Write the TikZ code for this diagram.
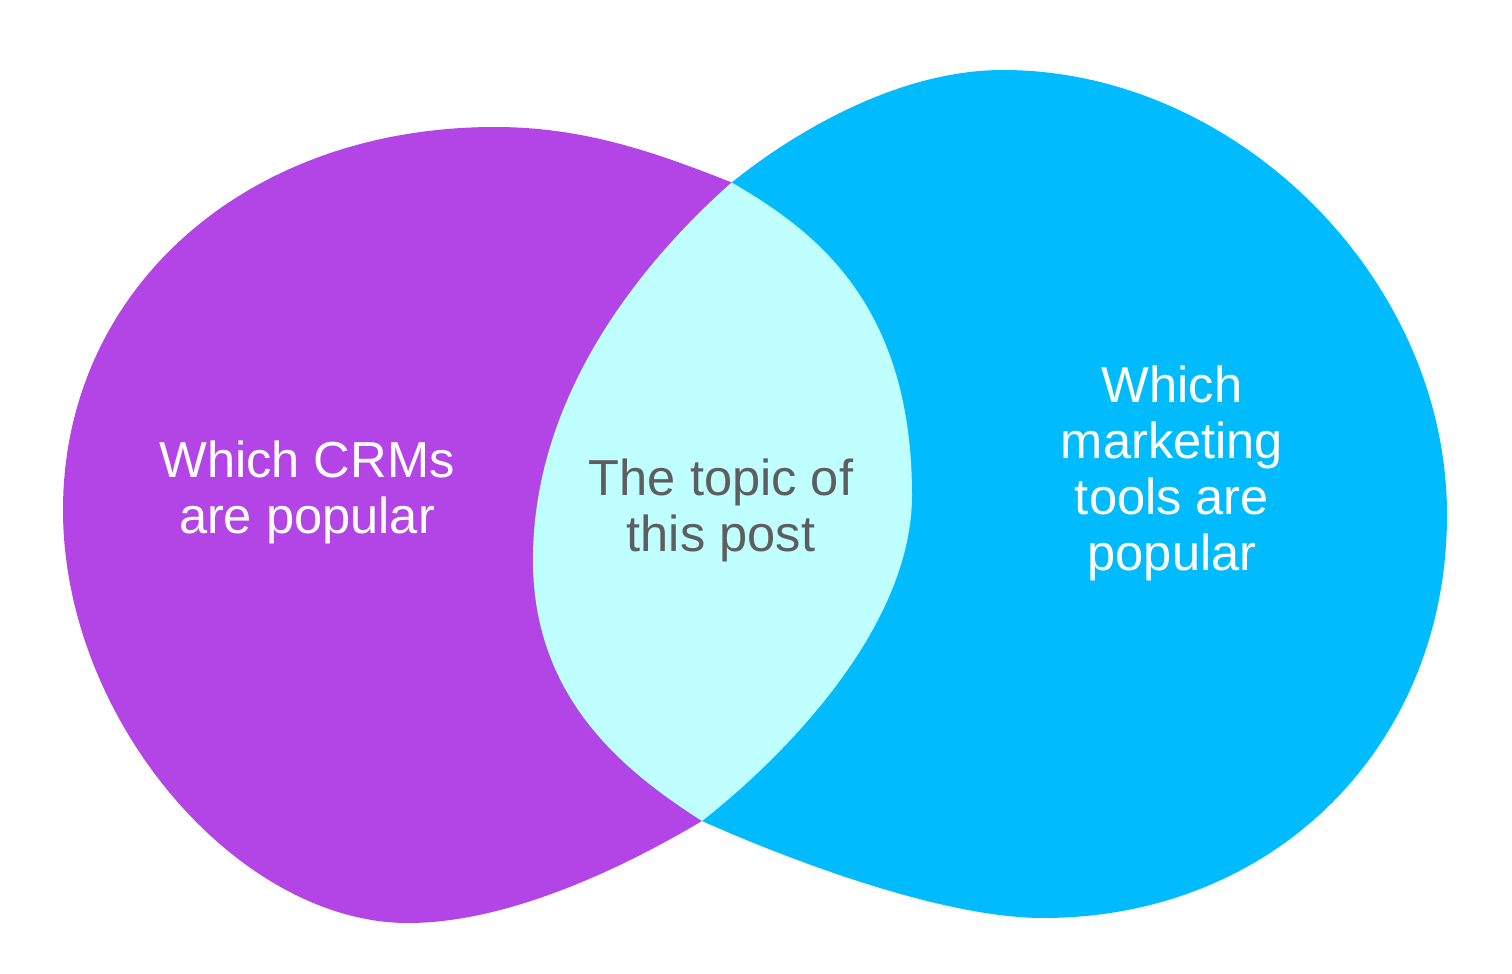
\documentclass[tikz,border=0pt]{standalone}
\usepackage{fontspec}
\setmainfont{Liberation Sans}
\definecolor{crmpurple}{HTML}{B345E6}
\definecolor{mktcyan}{HTML}{00BCFF}
\definecolor{lenscyan}{HTML}{BFFFFF}
\definecolor{topicgrey}{HTML}{5E5E5E}
\tikzset{
  lbl/.style={font=\fontsize{25.3}{28}\selectfont, align=center, anchor=base, inner sep=0pt},
}
\begin{document}
\begin{tikzpicture}[x=0.5pt,y=-0.5pt]
\useasboundingbox (0,0) rectangle (1512,974);
\fill[white] (0,0) rectangle (1512,974);
\coordinate (T) at (731.7,182.5);
\coordinate (B) at (702,821);
% left blob
\fill[crmpurple] (T) .. controls (657,153) and (585,127) .. (495,127)
  .. controls (245,127) and (63,290) .. (63,510)
  .. controls (63,720) and (238,923) .. (408,923)
  .. controls (518,923) and (641.8,856.7) .. (B)
  .. controls (781,759) and (912,629) .. (912,495)
  .. controls (912,299) and (809,227.7) .. (T) -- cycle;
% right blob
\fill[mktcyan] (T) .. controls (786.3,138.4) and (893,70) .. (1003,70)
  .. controls (1235,70) and (1447,277) .. (1447,515)
  .. controls (1447,745) and (1275,918) .. (1043,918)
  .. controls (944,918) and (794,862) .. (B)
  .. controls (626.4,772.4) and (533,700) .. (533,560)
  .. controls (533,384) and (657,248.5) .. (T) -- cycle;
% intersection
\fill[lenscyan] (T) .. controls (809,227.7) and (912,299) .. (912,495)
  .. controls (912,629) and (781,759) .. (B)
  .. controls (626.4,772.4) and (533,700) .. (533,560)
  .. controls (533,384) and (657,248.5) .. (T) -- cycle;
% labels (base = baseline of the last line)
\node[lbl, text=white] (crm) at (307,533) {Which CRMs\\are popular};
\node[lbl, text=topicgrey] (topic) at (721,551) {The topic of\\this post};
\node[lbl, text=white] (mkt) at (1172,570) {Which\\marketing\\tools are\\popular};
\end{tikzpicture}
\end{document}
